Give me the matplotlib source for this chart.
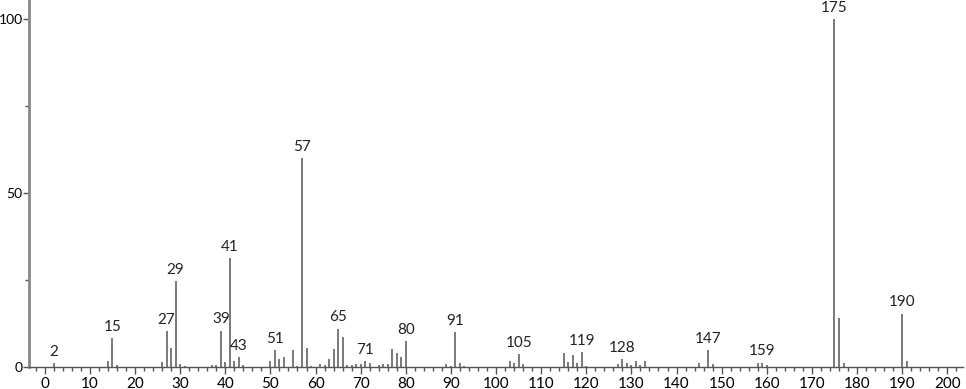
import numpy as np
import matplotlib.pyplot as plt
from matplotlib.ticker import MultipleLocator

# m/z and relative intensity
mz = [2, 14, 15, 16, 26, 27, 28, 29, 30, 31, 37, 38, 39, 40, 41, 42, 43, 44,
      50, 51, 52, 53, 55, 56, 57, 58, 59, 61, 62, 63, 64, 65, 66, 67, 68, 69,
      70, 71, 72, 74, 75, 76, 77, 78, 79, 80, 89, 90, 91, 92, 93, 103, 104,
      105, 106, 115, 116, 117, 118, 119, 120, 127, 128, 129, 130, 131, 132,
      133, 145, 147, 148, 158, 159, 160, 175, 176, 177, 190, 191]
intensity = [1.0, 1.8, 8.3, 0.5, 1.3, 10.2, 5.3, 24.6, 0.8, 0.3, 0.4, 0.5,
             10.4, 1.3, 31.3, 1.7, 2.8, 0.6, 1.7, 4.9, 2.3, 2.7, 4.7, 0.3,
             60.0, 5.5, 0.3, 0.8, 0.4, 2.3, 5.2, 11.0, 8.6, 0.4, 0.5, 0.8,
             0.8, 1.7, 1.0, 0.5, 0.8, 0.8, 5.2, 4.0, 2.7, 7.4, 0.8, 0.3, 10.0,
             1.0, 0.3, 1.8, 1.0, 3.7, 0.8, 4.0, 1.3, 3.4, 1.2, 4.2, 0.3, 0.8,
             2.3, 1.1, 0.5, 1.6, 0.4, 1.6, 1.2, 4.9, 0.7, 1.0, 1.2, 0.4,
             100.0, 14.0, 1.0, 15.3, 1.7]
labeled = [2, 15, 27, 29, 39, 41, 43, 51, 57, 65, 71, 80, 91, 105, 119, 128,
           147, 159, 175, 190]

plt.rcParams['font.family'] = ['Lato', 'DejaVu Sans']

fig = plt.figure(figsize=(9.66, 3.89), dpi=100)
ax = fig.add_axes([0.030, 0.057, 0.967, 0.943])

ax.vlines(mz, 0, intensity, color='#7a7a7a', linewidth=1.4)

lookup = dict(zip(mz, intensity))
for m in labeled:
    ax.text(m, lookup[m] + 1.2, str(m), ha='center', va='bottom',
            fontsize=11, color='#222222')

ax.set_xlim(-3.5, 203.5)
ax.set_ylim(0, 105.5)

ax.xaxis.set_major_locator(MultipleLocator(10))
ax.xaxis.set_minor_locator(MultipleLocator(2))
ax.yaxis.set_major_locator(MultipleLocator(50))
ax.yaxis.set_minor_locator(MultipleLocator(25))

for s in ['top', 'right']:
    ax.spines[s].set_visible(False)
ax.spines['left'].set_color('#888888')
ax.spines['left'].set_linewidth(2)
ax.spines['bottom'].set_color('#555555')
ax.spines['bottom'].set_linewidth(1)

ax.tick_params(axis='x', which='major', length=5, width=1, color='#555555',
               labelsize=11, pad=2, direction='out')
ax.tick_params(axis='x', which='minor', length=3, width=1, color='#555555')
ax.tick_params(axis='y', which='major', length=4, width=1, color='#555555',
               labelsize=10, pad=0.5)
ax.tick_params(axis='y', which='minor', length=3, width=1, color='#555555')

fig.savefig('out.png', dpi=100)
